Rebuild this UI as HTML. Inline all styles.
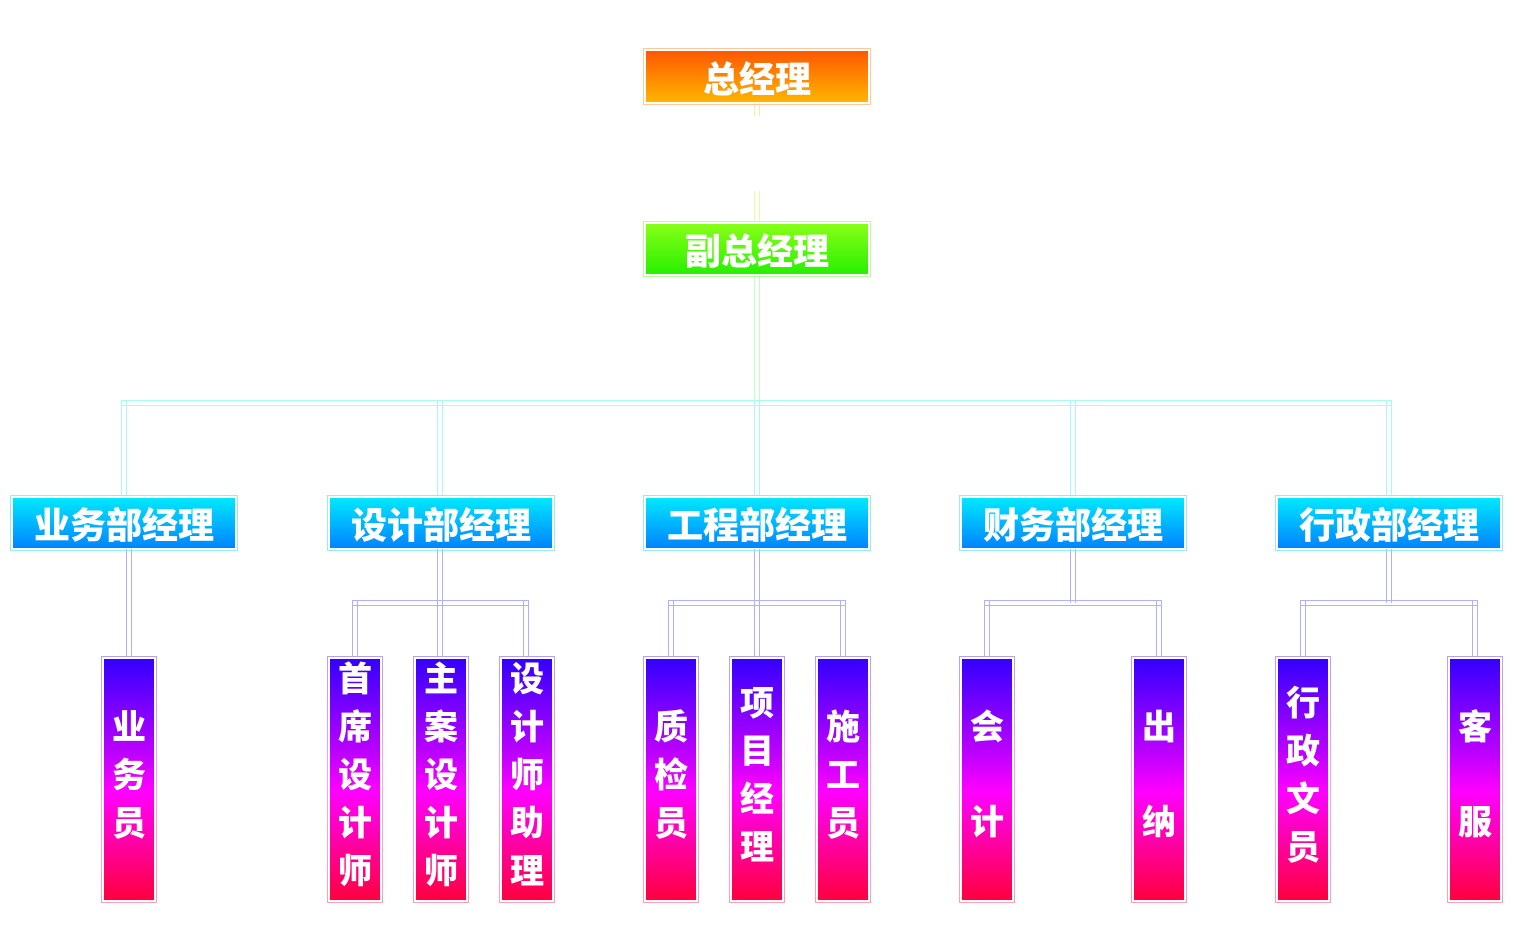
<!DOCTYPE html>
<html><head><meta charset="utf-8"><style>
body{margin:0;width:1518px;height:930px;background:#fff;position:relative;overflow:hidden;font-family:"Liberation Sans","Noto Sans CJK SC",sans-serif}
.b{position:absolute;box-sizing:border-box;border:1px solid}
.b .i{position:absolute;left:2px;top:2px;right:2px;bottom:2px;display:flex;align-items:center;justify-content:center;color:#fff;font-weight:900;font-size:36px;letter-spacing:0px}
.v{position:absolute;box-sizing:border-box;width:6px;border-left:1px solid;border-right:1px solid}
.h{position:absolute;box-sizing:border-box;height:6px;border-top:1px solid;border-bottom:1px solid}
.top{border-color:#ffc898}.top .i{background:linear-gradient(#ff5800,#ffb400)}
.vp{border-color:#b8ff98}.vp .i{background:linear-gradient(#88ff18,#28f000)}
.d{border-color:#98e8ff;top:495px;width:228px;height:56px}.d .i{background:linear-gradient(#00e8ff,#0084ff)}
.l{top:656px;width:56px;height:247px;border-color:#b0a0ff;border-image:linear-gradient(#b0a0ff,#ffa0f8,#ffa0b0) 1}
.l .i{background:linear-gradient(#3300ff,#c000ff 40%,#ff00ff 55%,#ff0040);flex-direction:column;font-size:34px;line-height:48px;padding-bottom:8px;box-sizing:border-box}
.l .i.g{gap:47px}
</style></head><body>
<div class="v" style="left:754px;top:103px;height:13px;border-color:#ffe8a0"></div>
<div class="v" style="left:754px;top:191px;height:31px;border-color:#e0ffa0"></div>
<div class="v" style="left:754px;top:275px;height:128px;border-color:#c0ffc0"></div>
<div class="h" style="left:121px;top:400px;width:1271px;border-color:#a8ffe8"></div>
<div class="v" style="left:121px;top:400px;height:96px;border-color:#a8f8ff"></div>
<div class="v" style="left:437px;top:400px;height:96px;border-color:#a8f8ff"></div>
<div class="v" style="left:754px;top:400px;height:96px;border-color:#a8f8ff"></div>
<div class="v" style="left:1070px;top:400px;height:96px;border-color:#a8f8ff"></div>
<div class="v" style="left:1386px;top:400px;height:96px;border-color:#a8f8ff"></div>
<div class="v" style="left:126px;top:549px;height:108px;border-color:#b0b0ff"></div>
<div class="v" style="left:437px;top:549px;height:54px;border-color:#b0b0ff"></div>
<div class="h" style="left:352px;top:600px;width:177px;border-color:#b0b0ff"></div>
<div class="v" style="left:352px;top:600px;height:57px;border-color:#b0b0ff"></div>
<div class="v" style="left:437px;top:600px;height:57px;border-color:#b0b0ff"></div>
<div class="v" style="left:523px;top:600px;height:57px;border-color:#b0b0ff"></div>
<div class="v" style="left:754px;top:549px;height:54px;border-color:#b0b0ff"></div>
<div class="h" style="left:668px;top:600px;width:178px;border-color:#b0b0ff"></div>
<div class="v" style="left:668px;top:600px;height:57px;border-color:#b0b0ff"></div>
<div class="v" style="left:754px;top:600px;height:57px;border-color:#b0b0ff"></div>
<div class="v" style="left:840px;top:600px;height:57px;border-color:#b0b0ff"></div>
<div class="v" style="left:1070px;top:549px;height:54px;border-color:#b0b0ff"></div>
<div class="h" style="left:984px;top:600px;width:178px;border-color:#b0b0ff"></div>
<div class="v" style="left:984px;top:600px;height:57px;border-color:#b0b0ff"></div>
<div class="v" style="left:1156px;top:600px;height:57px;border-color:#b0b0ff"></div>
<div class="v" style="left:1386px;top:549px;height:54px;border-color:#b0b0ff"></div>
<div class="h" style="left:1300px;top:600px;width:178px;border-color:#b0b0ff"></div>
<div class="v" style="left:1300px;top:600px;height:57px;border-color:#b0b0ff"></div>
<div class="v" style="left:1472px;top:600px;height:57px;border-color:#b0b0ff"></div>
<div class="b top" style="left:643px;top:48px;width:228px;height:57px"><div class="i">总经理</div></div>
<div class="b vp" style="left:643px;top:221px;width:228px;height:56px"><div class="i">副总经理</div></div>
<div class="b d" style="left:10px"><div class="i">业务部经理</div></div>
<div class="b d" style="left:327px"><div class="i">设计部经理</div></div>
<div class="b d" style="left:643px"><div class="i">工程部经理</div></div>
<div class="b d" style="left:959px"><div class="i">财务部经理</div></div>
<div class="b d" style="left:1275px"><div class="i">行政部经理</div></div>
<div class="b l" style="left:101px"><div class="i"><span>业</span><span>务</span><span>员</span></div></div>
<div class="b l" style="left:327px"><div class="i"><span>首</span><span>席</span><span>设</span><span>计</span><span>师</span></div></div>
<div class="b l" style="left:413px"><div class="i"><span>主</span><span>案</span><span>设</span><span>计</span><span>师</span></div></div>
<div class="b l" style="left:499px"><div class="i"><span>设</span><span>计</span><span>师</span><span>助</span><span>理</span></div></div>
<div class="b l" style="left:643px"><div class="i"><span>质</span><span>检</span><span>员</span></div></div>
<div class="b l" style="left:729px"><div class="i"><span>项</span><span>目</span><span>经</span><span>理</span></div></div>
<div class="b l" style="left:815px"><div class="i"><span>施</span><span>工</span><span>员</span></div></div>
<div class="b l" style="left:959px"><div class="i g"><span>会</span><span>计</span></div></div>
<div class="b l" style="left:1131px"><div class="i g"><span>出</span><span>纳</span></div></div>
<div class="b l" style="left:1275px"><div class="i"><span>行</span><span>政</span><span>文</span><span>员</span></div></div>
<div class="b l" style="left:1447px"><div class="i g"><span>客</span><span>服</span></div></div>
</body></html>
